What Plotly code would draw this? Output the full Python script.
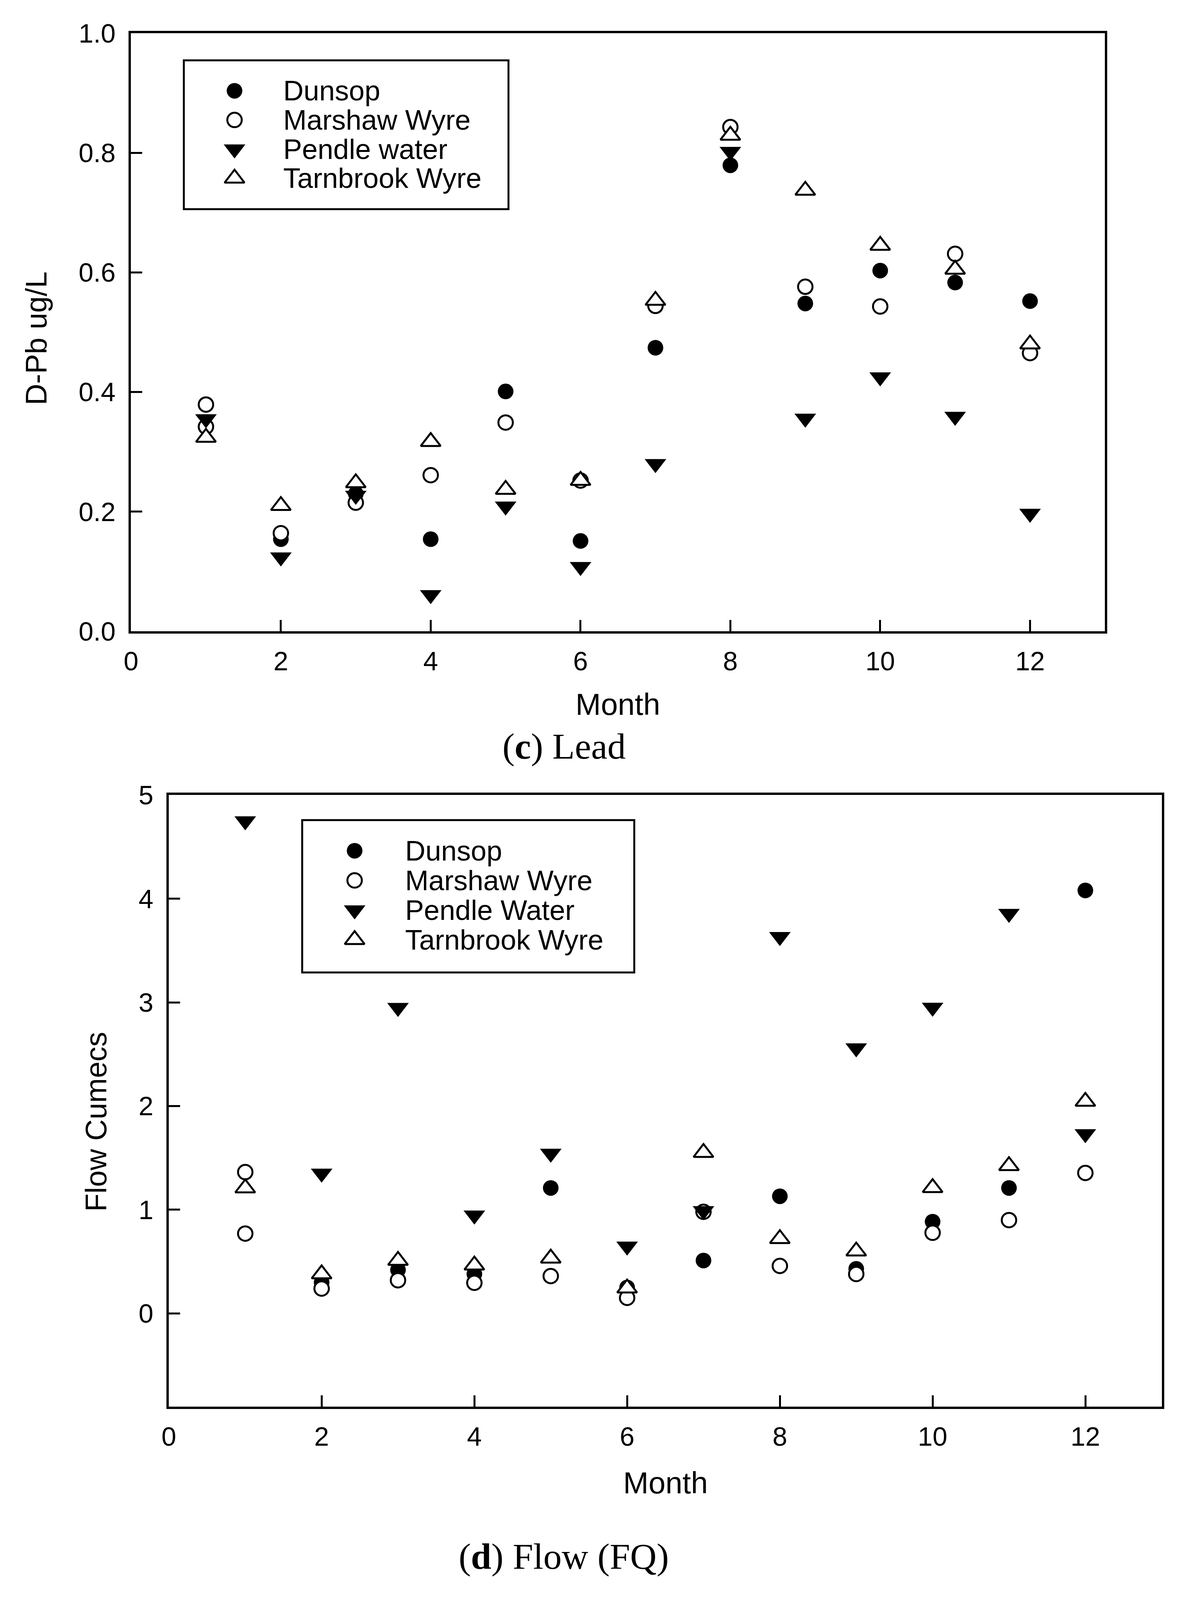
import plotly.graph_objects as go

# ---- data ----
months = [1, 2, 3, 4, 5, 6, 7, 8, 9, 10, 11, 12]
marshaw_months = [1, 1, 2, 3, 4, 5, 6, 7, 8, 9, 10, 11, 12]  # two Marshaw samples in month 1

# (c) Lead, D-Pb ug/L
dunsop_pb = [None, 0.154, 0.230, 0.154, 0.401, 0.151, 0.474, 0.779, 0.548, 0.603, 0.583, 0.552]
marshaw_pb = [0.379, 0.342, 0.164, 0.215, 0.261, 0.349, 0.252, 0.544, 0.843, 0.576, 0.543, 0.631, 0.465]
pendle_pb = [0.355, 0.124, 0.227, 0.061, 0.209, 0.108, 0.280, 0.802, 0.356, 0.425, 0.359, 0.197]
tarnbrook_pb = [0.324, 0.210, 0.248, 0.317, 0.237, 0.252, 0.553, 0.829, 0.737, 0.645, 0.605, 0.480]

# (d) Flow (FQ), cumecs
dunsop_fq = [None, 0.30, 0.42, 0.38, 1.21, 0.25, 0.51, 1.13, 0.43, 0.885, 1.21, 4.08]
marshaw_fq = [1.363, 0.770, 0.24, 0.32, 0.295, 0.36, 0.15, 0.98, 0.458, 0.38, 0.778, 0.90, 1.355]
pendle_fq = [4.75, 1.351, 2.95, 0.947, 1.543, 0.647, 0.989, 3.634, 2.56, 2.952, 3.857, 1.732]
tarnbrook_fq = [1.209, 0.38, 0.51, 0.465, 0.532, 0.243, 1.551, 0.720, 0.600, 1.212, 1.424, 2.044]

names_pb = ['Dunsop', 'Marshaw Wyre', 'Pendle water', 'Tarnbrook Wyre']
names_fq = ['Dunsop', 'Marshaw Wyre', 'Pendle Water', 'Tarnbrook Wyre']

# layout is worked out on the 3028 x 4746 reference, then given as paper fractions
W, H = 3028, 4746
SANS = 'Liberation Sans, Arial, sans-serif'
SERIF = 'Liberation Serif, Times New Roman, serif'


def px_x(p):
    return p / W


def px_y(p):
    return 1 - p / H


# marker styles in series order (open symbols are white-filled, like SigmaPlot)
styles = [
    dict(symbol='circle', size=40, color='black', line=dict(width=0)),
    dict(symbol='circle', size=37, color='white', line=dict(color='black', width=5)),
    dict(symbol='triangle-down', size=48, color='black', line=dict(width=0)),
    dict(symbol='triangle-up', size=44, color='white', line=dict(color='black', width=5)),
]

fig = go.Figure()

panels = [
    ('x', 'y', [months, marshaw_months, months, months],
     [dunsop_pb, marshaw_pb, pendle_pb, tarnbrook_pb]),
    ('x2', 'y2', [months, marshaw_months, months, months],
     [dunsop_fq, marshaw_fq, pendle_fq, tarnbrook_fq]),
]
for xa, ya, xs, ys in panels:
    for xv, yv, st in zip(xs, ys, styles):
        fig.add_trace(go.Scatter(x=xv, y=yv, mode='markers', marker=st,
                                 xaxis=xa, yaxis=ya, showlegend=False,
                                 cliponaxis=False))

# legend keys on small hidden axes (pixel units inside each legend box)
legends = [
    # xaxis, yaxis, box (x0, y0, x1, y1) in px, symbol x, text x, first row, row gap, names
    ('x3', 'y3', (451, 132, 1287, 577), 129, 253, 89, 88.5, names_pb),
    ('x4', 'y4', (758, 2437, 1613, 2893), 133, 262, 90, 90, names_fq),
]
legend_axes = {}
for xa, ya, box, sx, tx, r0, gap, names in legends:
    rows = [r0 + i * gap for i in range(len(names))]
    for i, st in enumerate(styles):
        fig.add_trace(go.Scatter(x=[sx], y=[rows[i]], mode='markers', marker=st,
                                 xaxis=xa, yaxis=ya, showlegend=False,
                                 hoverinfo='skip'))
        fig.add_annotation(x=tx, y=rows[i], xref=xa, yref=ya, text=names[i],
                           showarrow=False, xanchor='left', yanchor='middle',
                           font=dict(family=SANS, size=72, color='black'))
    legend_axes[xa] = box

axis_common = dict(showline=True, linecolor='black', linewidth=6, mirror=True,
                   ticks='inside', ticklen=29, tickwidth=5, tickcolor='black',
                   showgrid=False, zeroline=False,
                   tickfont=dict(family=SANS, size=68, color='black'))

legend_axis = dict(showline=True, linecolor='black', linewidth=5, mirror=True,
                   showticklabels=False, ticks='', showgrid=False, zeroline=False,
                   fixedrange=True)

b3 = legend_axes['x3']
b4 = legend_axes['x4']
fig.update_layout(
    autosize=True,
    margin=dict(l=0, r=0, t=0, b=0),
    paper_bgcolor='white', plot_bgcolor='white',
    showlegend=False,
    xaxis=dict(domain=[px_x(312), px_x(2834)], range=[0, 13], tick0=0, dtick=2,
               anchor='y', ticklabelstandoff=12, **axis_common),
    yaxis=dict(domain=[px_y(1861), px_y(46)], range=[0, 1.0], tick0=0, dtick=0.2,
               tickformat='.1f', anchor='x', ticklabelstandoff=20, **axis_common),
    xaxis2=dict(domain=[px_x(410), px_x(2981)], range=[0, 13], tick0=0, dtick=2,
                anchor='y2', ticklabelstandoff=12, **axis_common),
    yaxis2=dict(domain=[px_y(4214), px_y(2358)], range=[-0.9, 5], tick0=0, dtick=1,
                anchor='x2', ticklabelstandoff=20, **axis_common),
    xaxis3=dict(domain=[px_x(b3[0]), px_x(b3[2])], range=[0, b3[2] - b3[0]],
                anchor='y3', **legend_axis),
    yaxis3=dict(domain=[px_y(b3[3]), px_y(b3[1])], range=[b3[3] - b3[1], 0],
                anchor='x3', **legend_axis),
    xaxis4=dict(domain=[px_x(b4[0]), px_x(b4[2])], range=[0, b4[2] - b4[0]],
                anchor='y4', **legend_axis),
    yaxis4=dict(domain=[px_y(b4[3]), px_y(b4[1])], range=[b4[3] - b4[1], 0],
                anchor='x4', **legend_axis),
)

# axis titles and panel captions
labels = [
    ('D-Pb ug/L', 66, 972, -90, SANS, 76),
    ('Month', 1573, 2083, 0, SANS, 78),
    ('(<b>c</b>) Lead', 1434, 2210, 0, SERIF, 94),
    ('Flow Cumecs', 221, 3349, -90, SANS, 76),
    ('Month', 1696, 4445, 0, SANS, 78),
    ('(<b>d</b>) Flow (FQ)', 1433, 4668, 0, SERIF, 94),
]
for text, x, y, ang, fam, size in labels:
    fig.add_annotation(x=px_x(x), y=px_y(y), xref='paper', yref='paper', text=text,
                       showarrow=False, textangle=ang, xanchor='center', yanchor='middle',
                       font=dict(family=fam, size=size, color='black'))

# figure fills the browser window; all positions above are fractions of it
fig.write_html('out.html', config={'displayModeBar': False, 'responsive': True},
               default_width='100%', default_height='100%')
